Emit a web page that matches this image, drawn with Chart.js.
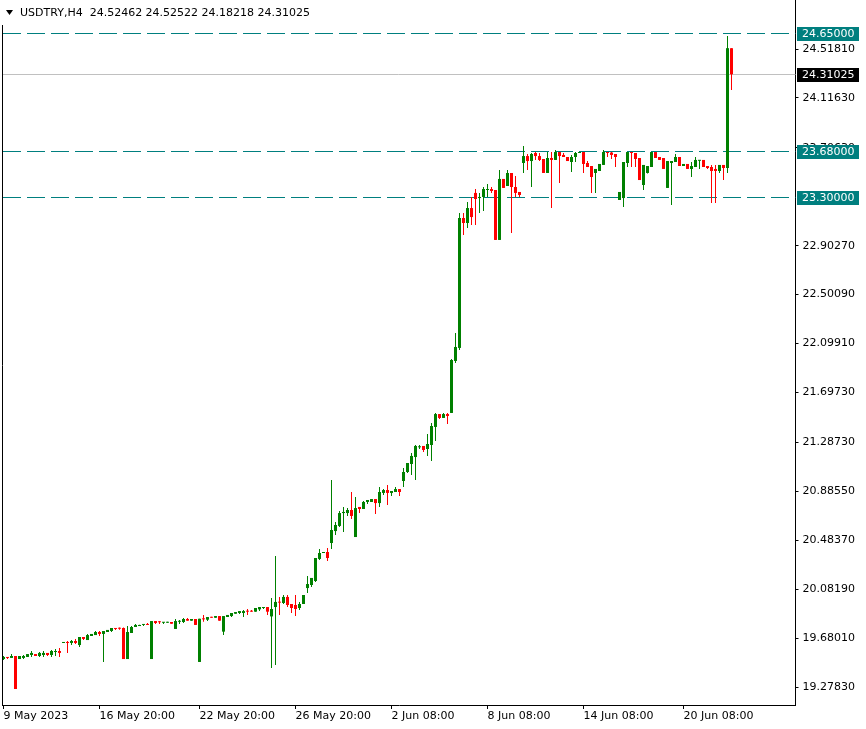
<!DOCTYPE html>
<html lang="en">
  <head>
    <meta charset="UTF-8" />
    <title>USDTRY H4</title>
    <script src="https://cdn.jsdelivr.net/npm/chart.js"></script>
    <style>
      html, body { margin: 0; padding: 0; background: #fff; }
      canvas { display: block; }
    </style>
  </head>
  <body>
    <canvas id="chart" width="866" height="729"></canvas>
    <script>
      // USDTRY, H4 candles (oldest first)
      const symbolName = "USDTRY,H4";

      const openPrices = [
        19.508, 19.525, 19.517, 19.533, 19.508, 19.517, 19.525, 19.541, 19.549, 19.533,
        19.541, 19.558, 19.541, 19.566, 19.574, 19.640, 19.648, 19.640, 19.656, 19.623,
        19.689, 19.664, 19.697, 19.705, 19.730, 19.714, 19.730, 19.738, 19.763, 19.763,
        19.763, 19.508, 19.722, 19.771, 19.779, 19.788, 19.796, 19.508, 19.820, 19.814,
        19.806, 19.806, 19.812, 19.755, 19.814, 19.812, 19.837, 19.823, 19.837, 19.484,
        19.839, 19.831, 19.853, 19.847, 19.861, 19.733, 19.853, 19.861, 19.880, 19.886,
        19.886, 19.905, 19.905, 19.897, 19.916, 19.927, 19.935, 19.858, 19.935, 19.977,
        19.968, 20.018, 19.960, 19.952, 19.927, 19.960, 20.091, 20.116, 20.149, 20.330,
        20.379, 20.387, 20.461, 20.559, 20.601, 20.707, 20.707, 20.732, 20.510, 20.757,
        20.740, 20.798, 20.798, 20.822, 20.789, 20.872, 20.896, 20.872, 20.880, 20.904,
        20.970, 21.044, 21.110, 21.167, 21.247, 21.258, 21.233, 21.266, 21.414, 21.520,
        21.488, 21.520, 21.529, 21.956, 22.063, 23.130, 23.089, 23.212, 23.336, 23.294,
        23.303, 23.360, 23.368, 23.360, 22.950, 23.451, 23.393, 23.500, 23.385, 23.344,
        23.582, 23.639, 23.598, 23.664, 23.639, 23.615, 23.500, 23.623, 23.607, 23.672,
        23.648, 23.631, 23.590, 23.631, 23.664, 23.672, 23.582, 23.557, 23.500, 23.516,
        23.566, 23.672, 23.668, 23.656, 23.278, 23.294, 23.582, 23.672, 23.664, 23.623,
        23.401, 23.500, 23.549, 23.672, 23.631, 23.623, 23.377, 23.582, 23.590, 23.631,
        23.557, 23.574, 23.533, 23.549, 23.600, 23.607, 23.557, 23.549, 23.533, 23.516,
        23.566, 23.541, 24.52462
      ];

      const highPrices = [
        19.533, 19.525, 19.549, 19.533, 19.533, 19.541, 19.549, 19.574, 19.549, 19.566,
        19.574, 19.558, 19.582, 19.590, 19.599, 19.648, 19.656, 19.664, 19.673, 19.689,
        19.689, 19.714, 19.714, 19.738, 19.738, 19.738, 19.747, 19.763, 19.763, 19.766,
        19.766, 19.779, 19.779, 19.796, 19.790, 19.796, 19.804, 19.820, 19.820, 19.820,
        19.812, 19.814, 19.812, 19.837, 19.828, 19.845, 19.845, 19.837, 19.837, 19.839,
        19.870, 19.853, 19.853, 19.861, 19.861, 19.861, 19.870, 19.886, 19.894, 19.902,
        19.911, 19.919, 19.911, 19.927, 19.935, 19.935, 19.935, 20.009, 20.354, 20.018,
        20.034, 20.034, 19.960, 20.034, 19.977, 20.034, 20.190, 20.174, 20.338, 20.412,
        20.387, 20.420, 20.978, 20.633, 20.724, 20.757, 20.748, 20.880, 20.839, 20.757,
        20.806, 20.814, 20.822, 20.822, 20.921, 20.904, 20.937, 20.888, 20.921, 20.904,
        21.077, 21.118, 21.200, 21.266, 21.266, 21.258, 21.356, 21.447, 21.529, 21.520,
        21.529, 21.529, 21.972, 22.186, 23.171, 23.171, 23.262, 23.303, 23.368, 23.336,
        23.385, 23.409, 23.385, 23.360, 23.524, 23.451, 23.524, 23.500, 23.475, 23.344,
        23.722, 23.656, 23.664, 23.672, 23.664, 23.615, 23.672, 23.672, 23.689, 23.672,
        23.664, 23.631, 23.648, 23.672, 23.672, 23.672, 23.598, 23.557, 23.533, 23.574,
        23.689, 23.672, 23.672, 23.656, 23.344, 23.590, 23.672, 23.672, 23.664, 23.623,
        23.566, 23.557, 23.672, 23.672, 23.631, 23.623, 23.598, 23.598, 23.656, 23.631,
        23.574, 23.574, 23.590, 23.631, 23.607, 23.607, 23.557, 23.566, 23.566, 23.566,
        23.566, 24.625, 24.52522
      ];

      const lowPrices = [
        19.500, 19.508, 19.517, 19.262, 19.508, 19.508, 19.525, 19.525, 19.533, 19.525,
        19.525, 19.533, 19.525, 19.533, 19.525, 19.640, 19.558, 19.623, 19.632, 19.607,
        19.664, 19.664, 19.697, 19.705, 19.697, 19.484, 19.730, 19.730, 19.747, 19.749,
        19.508, 19.508, 19.722, 19.771, 19.779, 19.779, 19.788, 19.508, 19.796, 19.796,
        19.796, 19.806, 19.798, 19.755, 19.796, 19.804, 19.823, 19.823, 19.788, 19.484,
        19.814, 19.820, 19.847, 19.847, 19.823, 19.705, 19.853, 19.853, 19.880, 19.878,
        19.853, 19.870, 19.897, 19.897, 19.902, 19.919, 19.870, 19.434, 19.459, 19.870,
        19.960, 19.935, 19.886, 19.861, 19.911, 19.960, 20.050, 20.100, 20.141, 20.321,
        20.379, 20.313, 20.412, 20.527, 20.592, 20.551, 20.683, 20.658, 20.510, 20.707,
        20.740, 20.781, 20.798, 20.699, 20.757, 20.855, 20.773, 20.847, 20.880, 20.847,
        20.921, 21.036, 21.019, 20.978, 21.233, 21.208, 21.176, 21.134, 21.299, 21.479,
        21.488, 21.438, 21.529, 21.939, 22.046, 22.991, 23.048, 23.073, 23.073, 23.171,
        23.188, 23.303, 23.336, 22.950, 22.950, 23.377, 23.393, 23.007, 23.303, 23.303,
        23.500, 23.524, 23.385, 23.607, 23.598, 23.500, 23.500, 23.212, 23.607, 23.418,
        23.631, 23.598, 23.508, 23.590, 23.664, 23.500, 23.549, 23.336, 23.336, 23.516,
        23.566, 23.631, 23.615, 23.549, 23.278, 23.221, 23.549, 23.549, 23.549, 23.442,
        23.360, 23.496, 23.549, 23.623, 23.607, 23.533, 23.377, 23.237, 23.590, 23.557,
        23.557, 23.533, 23.467, 23.549, 23.533, 23.549, 23.533, 23.253, 23.253, 23.500,
        23.442, 23.500, 24.18218
      ];

      const closePrices = [
        19.525, 19.517, 19.533, 19.262, 19.533, 19.533, 19.549, 19.558, 19.533, 19.558,
        19.558, 19.541, 19.574, 19.574, 19.558, 19.648, 19.640, 19.656, 19.640, 19.689,
        19.673, 19.705, 19.714, 19.730, 19.714, 19.738, 19.747, 19.763, 19.755, 19.757,
        19.508, 19.730, 19.771, 19.788, 19.788, 19.796, 19.788, 19.820, 19.804, 19.810,
        19.812, 19.814, 19.798, 19.820, 19.820, 19.837, 19.823, 19.837, 19.788, 19.839,
        19.834, 19.853, 19.847, 19.861, 19.823, 19.861, 19.870, 19.886, 19.894, 19.902,
        19.902, 19.897, 19.897, 19.927, 19.935, 19.935, 19.897, 19.919, 19.977, 19.971,
        20.018, 19.952, 19.927, 19.919, 19.960, 20.034, 20.124, 20.174, 20.338, 20.379,
        20.387, 20.338, 20.568, 20.609, 20.707, 20.716, 20.732, 20.683, 20.748, 20.740,
        20.798, 20.814, 20.822, 20.789, 20.880, 20.896, 20.872, 20.888, 20.904, 20.880,
        21.044, 21.118, 21.176, 21.258, 21.252, 21.225, 21.274, 21.422, 21.520, 21.488,
        21.520, 21.504, 21.964, 22.071, 23.130, 23.089, 23.212, 23.138, 23.286, 23.303,
        23.368, 23.368, 23.352, 22.950, 23.451, 23.377, 23.500, 23.385, 23.336, 23.319,
        23.639, 23.598, 23.656, 23.639, 23.607, 23.500, 23.623, 23.607, 23.672, 23.639,
        23.631, 23.598, 23.631, 23.664, 23.672, 23.574, 23.549, 23.467, 23.533, 23.574,
        23.672, 23.664, 23.648, 23.631, 23.344, 23.590, 23.672, 23.664, 23.615, 23.442,
        23.566, 23.557, 23.672, 23.623, 23.607, 23.533, 23.598, 23.598, 23.631, 23.557,
        23.574, 23.533, 23.557, 23.607, 23.607, 23.549, 23.541, 23.516, 23.516, 23.566,
        23.541, 24.525, 24.31025
      ];

      // bottom time axis: bar index of each label
      const timeTickIndex = [0, 24, 49, 73, 97, 121, 145, 170];
      const timeTickText = [
        "9 May 2023", "16 May 20:00", "22 May 20:00", "26 May 20:00",
        "2 Jun 08:00", "8 Jun 08:00", "14 Jun 08:00", "20 Jun 08:00"
      ];
      const emptyBarsRight = 16; // chart shift on the right

      // right price axis
      const priceTicks = [
        24.5181, 24.1163, 23.7063, 22.9027, 22.5009, 22.0991, 21.6973,
        21.2873, 20.8855, 20.4837, 20.0819, 19.6801, 19.2783
      ];
      const priceMin = 19.1305;
      const priceMax = 24.9206;

      // horizontal levels and the current bid
      const levelPrices = [24.65, 23.68, 23.3];
      const lastPrice = closePrices[closePrices.length - 1];

      const bull = "#008000";
      const bear = "#ff0000";
      const levelColor = "#007f7f";

      const barCount = openPrices.length + emptyBarsRight;
      const labels = [];
      for (let i = 0; i < barCount; i++) {
        const k = timeTickIndex.indexOf(i);
        labels.push(k >= 0 ? timeTickText[k] : "");
      }
      const candleColors = openPrices.map((o, i) => (closePrices[i] >= o ? bull : bear));

      const overlay = {
        id: "overlay",
        beforeDatasetsDraw(chart) {
          const { ctx, chartArea, scales } = chart;
          const y = scales.y;
          ctx.save();
          ctx.lineWidth = 1;
          // bid line
          let py = Math.round(y.getPixelForValue(lastPrice)) + 0.5;
          ctx.strokeStyle = "#c0c0c0";
          ctx.beginPath();
          ctx.moveTo(2, py);
          ctx.lineTo(chartArea.right, py);
          ctx.stroke();
          // dashed levels
          ctx.strokeStyle = levelColor;
          ctx.setLineDash([18, 6]);
          levelPrices.forEach((v) => {
            const ly = Math.round(y.getPixelForValue(v)) + 0.5;
            ctx.beginPath();
            ctx.moveTo(3, ly);
            ctx.lineTo(chartArea.right, ly);
            ctx.stroke();
          });
          ctx.restore();
        },
        afterDraw(chart) {
          const { ctx, chartArea, scales } = chart;
          const y = scales.y;
          ctx.save();
          // left frame
          ctx.strokeStyle = "#000";
          ctx.lineWidth = 1;
          ctx.beginPath();
          ctx.moveTo(2.5, 25);
          ctx.lineTo(2.5, chartArea.bottom + 1);
          ctx.stroke();

          // price boxes on the axis
          ctx.font = "11px 'DejaVu Sans'";
          ctx.textBaseline = "middle";
          ctx.textAlign = "left";
          const box = (v, bg) => {
            const by = Math.round(y.getPixelForValue(v));
            ctx.fillStyle = bg;
            ctx.fillRect(797, by - 6, 62, 14);
            ctx.fillStyle = "#fff";
            ctx.fillText(v.toFixed(5), 802, by + 1);
          };
          levelPrices.forEach((v) => box(v, levelColor));
          box(lastPrice, "#000");

          // title
          const n = openPrices.length - 1;
          ctx.fillStyle = "#000";
          ctx.beginPath();
          ctx.moveTo(6, 10);
          ctx.lineTo(13, 10);
          ctx.lineTo(9.5, 15);
          ctx.closePath();
          ctx.fill();
          const title = symbolName + "  " +
            [openPrices[n], highPrices[n], lowPrices[n], closePrices[n]].map((v) => v.toFixed(5)).join(" ");
          ctx.fillText(title, 20, 13);
          ctx.restore();
        },
      };

      Chart.defaults.font.family = "'DejaVu Sans'";
      Chart.defaults.font.size = 11;
      Chart.defaults.color = "#000";

      new Chart(document.getElementById("chart"), {
        type: "bar",
        data: {
          labels: labels,
          datasets: [
            {
              label: "wick",
              data: lowPrices.map((l, i) => [l, highPrices[i]]),
              backgroundColor: candleColors,
              barThickness: 1,
              minBarLength: 1,
              grouped: false,
              inflateAmount: 0,
              borderWidth: 0,
              clip: false,
            },
            {
              label: "body",
              data: openPrices.map((o, i) => [o, closePrices[i]]),
              backgroundColor: candleColors,
              barThickness: 3,
              minBarLength: 1,
              grouped: false,
              inflateAmount: 0,
              borderWidth: 0,
              clip: false,
            },
          ],
        },
        options: {
          responsive: false,
          animation: false,
          events: [],
          layout: { padding: { left: 3.5, top: 0, right: 0, bottom: 0 } },
          plugins: { legend: { display: false }, tooltip: { enabled: false } },
          scales: {
            x: {
              type: "category",
              offset: false,
              grid: { offset: false, drawOnChartArea: false, tickLength: 4, color: "#000" },
              border: { display: true, color: "#000" },
              ticks: { autoSkip: false, maxRotation: 0, align: "start", padding: 1 },
              afterBuildTicks(scale) {
                scale.ticks = timeTickIndex.map((i) => ({ value: i }));
              },
              afterFit(scale) {
                scale.height = 24;
                scale.paddingLeft = 0;
                scale.paddingRight = 0;
              },
            },
            y: {
              type: "linear",
              position: "right",
              min: priceMin,
              max: priceMax,
              bounds: "data",
              grid: { drawOnChartArea: false, tickLength: 3, color: "#000" },
              border: { display: true, color: "#000" },
              ticks: {
                padding: 4,
                callback: (v) => Number(v).toFixed(5),
              },
              afterBuildTicks(scale) {
                scale.ticks = priceTicks.map((v) => ({ value: v }));
              },
              afterFit(scale) {
                scale.width = 70.5;
                scale.paddingTop = 0;
                scale.paddingBottom = 0;
              },
            },
          },
        },
        plugins: [overlay],
      });
    </script>
  </body>
</html>
